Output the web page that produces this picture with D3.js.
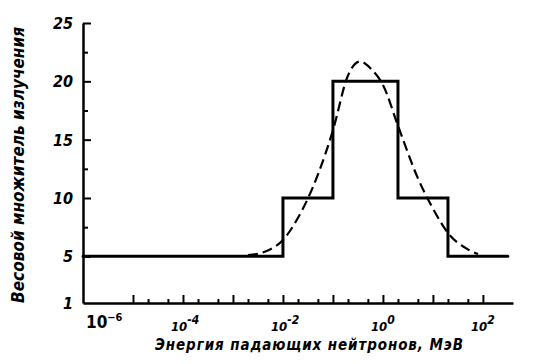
<!DOCTYPE html>
<html>
<head>
<meta charset="utf-8">
<script src="https://cdn.jsdelivr.net/npm/d3@7"></script>
<style>
	body { margin: 0; background: #fff; }
	svg { display: block; }
	.lbl { font-family: "DejaVu Sans Condensed", "DejaVu Sans", sans-serif; font-style: italic; font-weight: bold; fill: #000; }
</style>
</head>
<body>
<div id="chart"></div>
<script>
// step function: bin edges (MeV) and weight in each bin
var stepEdges  = [1e-6, 1e-2, 0.1, 2, 20, 316];
var stepValues = [5, 10, 20, 10, 5];

// dashed smooth curve
var curveEnergy = [0.002, 0.005, 0.01, 0.02, 0.05, 0.1, 0.2, 0.35, 0.6, 1, 2, 5, 10, 20, 50, 80];
var curveWeight = [5.1, 5.5, 6.4, 8.3, 12.0, 15.8, 20.5, 21.7, 21.0, 19.7, 16.2, 11.7, 9.1, 7.0, 5.6, 5.2];

// axis ticks
var yMajorTicks = [5, 10, 15, 20, 25];
var yMinorTicks = [7.5, 12.5, 17.5, 22.5];
var yTickLabels = [1, 5, 10, 15, 20, 25];
var xMajorTicks = [1e-5, 1e-4, 1e-3, 1e-2, 1e-1, 1, 10, 100];
var xMinorTicks = [2e-5, 5e-5, 2e-4, 5e-4, 2e-3, 5e-3, 2e-2, 5e-2, 0.2, 0.5, 2, 5, 20, 50];
var xLabelExp   = [-6, -4, -2, 0, 2];

var yLabel = "Весовой множитель излучения";
var xLabel = "Энергия падающих нейтронов, МэВ";

var width = 549, height = 364;
var chartLeft = 83, chartRight = 513, chartTop = 23, chartBottom = 303;

var svg = d3.select("#chart").append("svg")
	.attr("width", width)
	.attr("height", height);

var x = d3.scaleLog()
	.domain([1e-6, 400])
	.range([chartLeft, chartRight]);

var y = d3.scaleLinear()
	.domain([1, 25])
	.range([chartBottom, chartTop]);

// y axis: major ticks, minor ticks, labels
svg.append("g")
	.attr("transform", "translate(" + chartLeft + ",0)")
	.call(d3.axisLeft(y).tickValues(yMajorTicks).tickSize(-8).tickSizeOuter(0).tickFormat(""));
svg.append("g")
	.attr("transform", "translate(" + chartLeft + ",0)")
	.call(d3.axisLeft(y).tickValues(yMinorTicks).tickSize(-5).tickSizeOuter(0).tickFormat(""))
	.select(".domain").remove();

svg.selectAll(".ylbl")
	.data(yTickLabels)
	.enter().append("text")
	.attr("class", "lbl ylbl")
	.attr("x", chartLeft - 10)
	.attr("y", function(d) { return y(d) + 6; })
	.attr("text-anchor", "end")
	.style("font-size", "16px")
	.text(function(d) { return d; });

// x axis
svg.append("g")
	.attr("transform", "translate(0," + chartBottom + ")")
	.call(d3.axisBottom(x).tickValues(xMajorTicks).tickSize(-8).tickSizeOuter(0).tickFormat(""));
svg.append("g")
	.attr("transform", "translate(0," + chartBottom + ")")
	.call(d3.axisBottom(x).tickValues(xMinorTicks).tickSize(-4).tickSizeOuter(0).tickFormat(""))
	.select(".domain").remove();

svg.selectAll(".domain")
	.attr("stroke", "#000")
	.attr("stroke-width", 2.5);
svg.selectAll(".tick line")
	.attr("stroke", "#000")
	.attr("stroke-width", 2);

// x tick labels: first one upright, others small italic
xLabelExp.forEach(function(e, i) {
	var t = svg.append("text")
		.attr("class", "lbl");
	if (i === 0) {
		t.attr("x", x(Math.pow(10, e)) + 3)
			.attr("y", 328)
			.style("font-style", "normal")
			.style("font-size", "17px");
		t.append("tspan").text("10");
		t.append("tspan").attr("dy", -7).style("font-size", "11px").text("\u2212" + Math.abs(e));
	} else {
		t.attr("x", x(Math.pow(10, e)) - 12)
			.attr("y", 331)
			.style("font-size", "13px");
		t.append("tspan").text("10");
		t.append("tspan").attr("dy", -7).style("font-size", "12px")
			.text(e < 0 ? "-" + Math.abs(e) : e);
	}
});

// step function line
var stepPoints = stepValues.map(function(v, i) { return [stepEdges[i], v]; });
stepPoints.push([stepEdges[stepEdges.length - 1], stepValues[stepValues.length - 1]]);

var stepLine = d3.line()
	.x(function(d) { return x(d[0]); })
	.y(function(d) { return y(d[1]); })
	.curve(d3.curveStepAfter);

svg.append("path")
	.datum(stepPoints)
	.attr("d", stepLine)
	.attr("fill", "none")
	.attr("stroke", "#000")
	.attr("stroke-width", 3)
	.attr("stroke-linecap", "round");

// dashed curve
var curveLine = d3.line()
	.x(function(d, i) { return x(curveEnergy[i]); })
	.y(function(d) { return y(d); })
	.curve(d3.curveMonotoneX);

svg.append("path")
	.datum(curveWeight)
	.attr("d", curveLine)
	.attr("fill", "none")
	.attr("stroke", "#000")
	.attr("stroke-width", 2.2)
	.attr("stroke-dasharray", "10,5");

// axis titles
svg.append("text")
	.attr("class", "lbl")
	.attr("transform", "translate(24," + ((chartTop + chartBottom) / 2 + 2) + ") rotate(-90)")
	.attr("text-anchor", "middle")
	.attr("textLength", 276)
	.attr("lengthAdjust", "spacing")
	.style("font-size", "17px")
	.text(yLabel);

svg.append("text")
	.attr("class", "lbl")
	.attr("x", 155)
	.attr("y", 350)
	.attr("textLength", 308)
	.attr("lengthAdjust", "spacing")
	.style("font-size", "15px")
	.text(xLabel);
</script>
</body>
</html>
